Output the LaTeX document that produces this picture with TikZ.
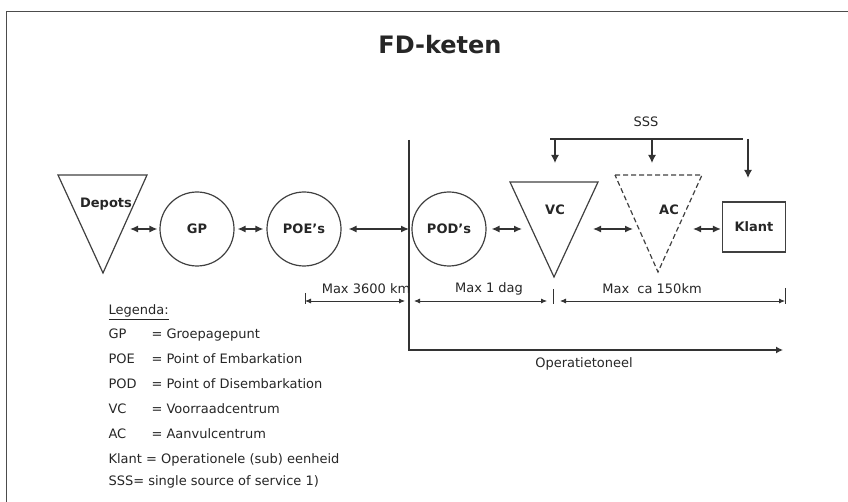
\documentclass[tikz,border=0pt]{standalone}
\usepackage{fontspec}
\setmainfont{DejaVu Sans}
\usetikzlibrary{arrows.meta}

\begin{document}
\begin{tikzpicture}[
        x=1pt,
        y=-1pt,
        every node/.style={text=black!85, font=\fontsize{13}{15}\selectfont},
        shapeline/.style={draw=black!75, line width=1.2pt},
        stop/.style={circle, shapeline, minimum size=74pt, inner sep=0pt, font=\bfseries\fontsize{13}{15}\selectfont},
        tag/.style={font=\bfseries\fontsize{13}{15}\selectfont},
        link/.style={black!80, line width=1.3pt, {Latex[length=8pt,width=7pt]}-{Latex[length=8pt,width=7pt]}},
        drop/.style={black!80, line width=1.3pt, -{Latex[length=8pt,width=8pt]}},
        span/.style={black!80, line width=0.8pt, {Latex[length=6pt,width=5pt]}-{Latex[length=6pt,width=5pt]}},
        key/.style={anchor=base west}
    ]
        \useasboundingbox (0,0) rectangle (848,502);
        \draw[black!70, line width=1pt] (6,502) -- (6,12) -- (848,12);
        \node[font=\bfseries\fontsize{24}{28}\selectfont] (title) at (440,45) {FD-keten};

        % schakels
        \draw[shapeline] (58,175) -- (147,175) -- (103,273) -- cycle;
        \node[tag] (depots) at (106,204) {Depots};
        \node[stop] (gp) at (197,229) {GP};
        \node[stop] (poe) at (304,229) {POE's};
        \node[stop] (pod) at (449,229) {POD's};
        \draw[shapeline] (510,182) -- (598,182) -- (554,277) -- cycle;
        \node[tag] (vc) at (555,210) {VC};
        \draw[shapeline, dash pattern=on 5pt off 3pt] (615,175) -- (702,175) -- (658,272) -- cycle;
        \node[tag] (ac) at (669,210) {AC};
        \node[rectangle, shapeline, minimum width=63pt, minimum height=50pt, tag] (klant) at (754,227) {Klant};

        \coordinate (depots-r) at (130,229);
        \coordinate (vc-l) at (522,229);
        \coordinate (vc-r) at (593,229);
        \coordinate (ac-l) at (633,229);
        \coordinate (ac-r) at (693,229);
        \draw[link] (depots-r) -- ([xshift=-2pt]gp.west);
        \draw[link, shorten <=3pt, shorten >=3pt] (gp) -- (poe);
        \draw[link, shorten <=7pt] (poe) -- (409,229);
        \draw[link, shorten <=5pt] (pod) -- (vc-l);
        \draw[link] (vc-r) -- (ac-l);
        \draw[link, shorten >=1pt] (ac-r) -- (ac-r -| klant.west);

        % SSS
        \node (sss) at (646,122) {SSS};
        \coordinate (sss-w) at (550,139);
        \coordinate (sss-e) at (743,139);
        \draw[black!80, line width=1.3pt] (sss-w) -- (sss-e);
        \foreach \x/\y in {555/163, 652/163, 748/178}
            \draw[drop] (\x,139) -- (\x,\y);

        % operatietoneel
        \coordinate (ot-top) at (409,140);
        \coordinate (ot-end) at (783,350);
        \draw[black!80, line width=1.3pt, -{Latex[length=7pt,width=7pt]}] (ot-top) |- (ot-end);
        \node (ot) at (584,364) {Operatietoneel};

        % afstanden
        \foreach \x/\h in {305/8, 553/12, 785/13}
            \draw[black!80, line width=0.8pt] (\x,301-\h) -- (\x,304);
        \draw[span] (305,301) -- (405,301);
        \draw[span] (414,301) -- (547,301);
        \draw[span] (560,301) -- (785,301);
        \node (d1) at (366,289) {Max 3600 km};
        \node (d2) at (489,289) {Max 1 dag};
        \node (d3) at (652,289) {Max\ \ ca 150km};

        % legenda
        \node[key] (legenda) at (105,315) {\underline{Legenda:}};
        \foreach \y/\ab/\txt in {338/GP/Groepagepunt, 363/POE/Point of Embarkation,
            388/POD/Point of Disembarkation, 413/VC/Voorraadcentrum, 438/AC/Aanvulcentrum}{
            \node[key] (ab-\ab) at (105,\y) {\ab};
            \node[key] (txt-\ab) at (148,\y) {= \txt};
        }
        \node[key] (klant-txt) at (105,463) {Klant = Operationele (sub) eenheid};
        \node[key] (sss-txt) at (105,485) {SSS= single source of service 1)};
    \end{tikzpicture}
\end{document}
